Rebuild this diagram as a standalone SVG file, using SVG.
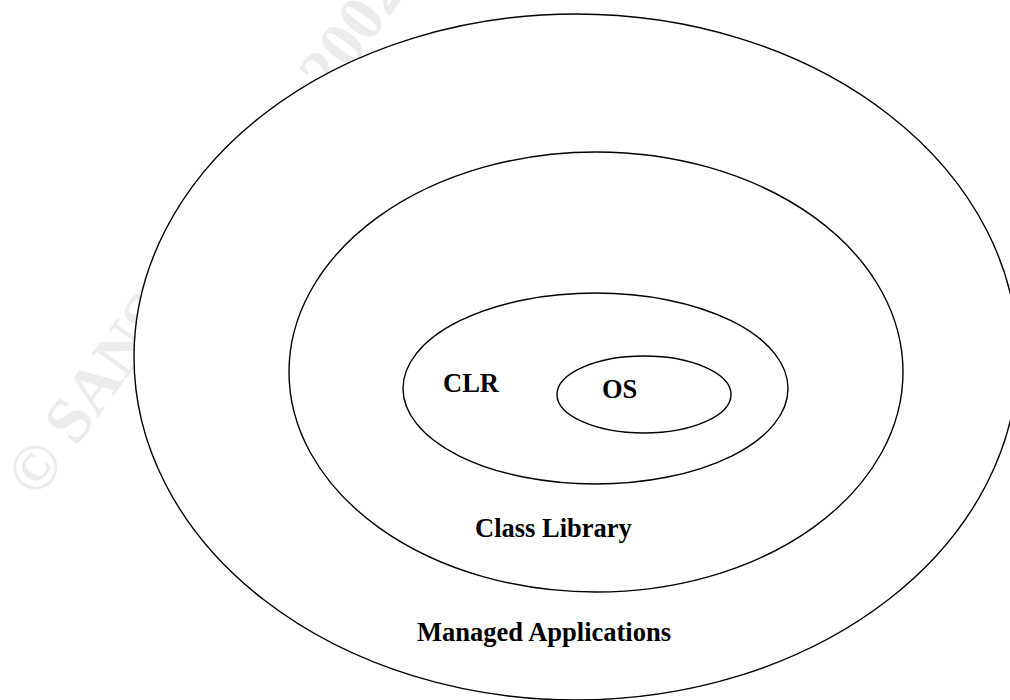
<svg xmlns="http://www.w3.org/2000/svg" width="1010" height="700" viewBox="0 0 1010 700">
<style>
.ring{fill:#fff;stroke:#000;stroke-width:1.4}
.lbl{font-family:"Liberation Serif","Times New Roman",serif;font-weight:bold;font-size:26.5px;fill:#000}
.wm{font-family:"Liberation Serif","Times New Roman",serif;font-weight:bold;font-size:65px;fill:#ececec}
</style>
<rect width="1010" height="700" fill="#fff"/>
<text class="wm" transform="translate(38,500) rotate(-54)">© SANS Institute 2002, Author retains full rights.</text>
<g id="managed-applications">
<ellipse class="ring" cx="576" cy="357" rx="442" ry="343"/>
<text class="lbl" x="417" y="641">Managed Applications</text>
</g>
<g id="class-library">
<ellipse class="ring" cx="596" cy="372" rx="307" ry="220"/>
<text class="lbl" x="475" y="537">Class Library</text>
</g>
<g id="clr">
<ellipse class="ring" cx="595.5" cy="388.5" rx="192.5" ry="95.5"/>
<text class="lbl" x="443" y="392">CLR</text>
</g>
<g id="os">
<ellipse class="ring" cx="644" cy="394.5" rx="87" ry="38.5"/>
<text class="lbl" x="602" y="398">OS</text>
</g>
</svg>
